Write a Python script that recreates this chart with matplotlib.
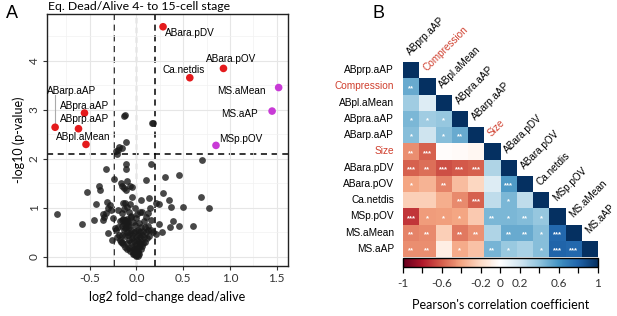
import numpy as np
import matplotlib
matplotlib.use('Agg')
import matplotlib.pyplot as plt
from matplotlib.colors import LinearSegmentedColormap
import matplotlib as mpl

# ---------------- Panel A data ----------------
sig_names = ['ABara.pDV', 'ABara.pOV', 'Ca.netdis', 'MS.aMean', 'MS.aAP', 'MSp.pOV',
             'ABarp.aAP', 'ABpra.aAP', 'ABprp.aAP', 'ABpl.aMean']
sig_x = [0.284, 0.93, 0.57, 1.52, 1.45, 0.85, -0.87, -0.556, -0.62, -0.54]
sig_y = [4.69, 3.84, 3.65, 3.45, 2.97, 2.27, 2.64, 2.93, 2.61, 2.29]
sig_group = ['AB', 'AB', 'AB', 'MS', 'MS', 'MS', 'AB', 'AB', 'AB', 'AB']

ns_x = [-0.135, -0.125, 0.167, 0.18, -0.22, -0.19, -0.15, -0.11, -0.21, -0.2, 0.705,
        -0.114, 0.16, -0.33, -0.114, 0.45, 0.31, -0.24, 0.107, -0.10, -0.17, -0.40, -0.15, -0.05,
        -0.385, -0.53, -0.11, -0.13, 0.28, 0.135, 0.35, 0.69, -0.32, -0.435, 0.21, 0.24, 0.37,
        0.50, 0.78, -0.28, -0.3, -0.07, -0.05, -0.07, -0.125,
        -0.855, -0.58, -0.45, -0.36, -0.36, -0.35, -0.30, -0.22, -0.21, 0.39, 0.36, 0.45, 0.60,
        0.27, 0.21, 0.18, 0.24, 0.035, 0.06, 0.14, 0.12, 0.1, 0.08, 0.15, 0.12,
        -0.27, -0.33, -0.25, -0.2, -0.18, -0.15, -0.12, -0.1, -0.16, -0.13, -0.1, -0.08, -0.14, -0.2,
        -0.18, -0.15, -0.12, -0.1, -0.08, -0.06, -0.05, -0.03, 0.0, 0.02, 0.04, 0.06, 0.08, 0.1,
        0.12, 0.05, -0.02,
        -0.14, -0.12, -0.1, -0.08, -0.06, -0.05, -0.03, -0.01, 0.01, 0.03, 0.05, 0.07, 0.09, 0.04, 0.02,
        -0.1, -0.08, -0.07, -0.05, -0.04, -0.03, -0.02, 0.0, 0.01, 0.02, 0.03, 0.05, 0.06, 0.04,
        -0.03, -0.02, -0.01, 0.0, 0.01, 0.02, 0.0, -0.01, 0.015, -0.04, 0.03,
        -0.09, -0.07, 0.07, -0.13, -0.11, 0.09, -0.16, -0.04, 0.0, -0.06, 0.03,
        -0.17, -0.19, -0.23, -0.26, -0.09, -0.06, 0.11, 0.13, 0.16, 0.01, -0.02, 0.05,
        -0.12, -0.1, -0.14, -0.11, -0.13, -0.09, -0.15, -0.12]
ns_y = [2.87, 2.88, 2.72, 2.73, 2.16, 2.24, 2.22, 2.33, 2.10, 2.18, 1.98,
        1.90, 1.89, 1.78, 1.78, 1.66, 1.63, 1.58, 1.57, 1.55, 1.50, 1.44, 1.44, 1.43,
        1.35, 1.32, 1.37, 1.40, 1.29, 1.19, 1.16, 1.21, 1.12, 1.08, 1.09, 1.07, 1.01,
        1.01, 0.99, 1.05, 1.0, 1.44, 1.22, 1.08, 1.09,
        0.87, 0.67, 0.74, 0.88, 0.74, 0.80, 0.48, 0.54, 0.40, 0.73, 0.61, 0.63, 0.63,
        0.51, 0.46, 0.50, 0.67, 0.92, 0.92, 0.99, 0.9, 0.8, 0.72, 0.75, 0.62,
        0.95, 0.9, 0.78, 0.6, 0.72, 0.75, 0.74, 0.76, 0.9, 0.98, 1.02, 0.92, 1.1, 0.96,
        0.35, 0.3, 0.42, 0.5, 0.6, 0.55, 0.45, 0.5, 0.52, 0.55, 0.5, 0.45, 0.4, 0.5,
        0.55, 0.6, 0.65,
        0.25, 0.2, 0.28, 0.35, 0.3, 0.38, 0.33, 0.4, 0.35, 0.3, 0.33, 0.28, 0.3, 0.4, 0.45,
        0.15, 0.18, 0.12, 0.2, 0.1, 0.15, 0.22, 0.25, 0.18, 0.12, 0.2, 0.15, 0.22, 0.25,
        0.05, 0.08, 0.03, 0.01, 0.05, 0.02, 0.1, 0.12, 0.08, 0.06, 0.06,
        0.45, 0.48, 0.52, 0.55, 0.6, 0.6, 0.45, 0.7, 0.78, 0.82, 0.68,
        0.3, 0.45, 0.58, 0.35, 0.65, 0.8, 0.38, 0.42, 0.55, 0.88, 1.0, 1.15,
        0.74, 0.73, 0.76, 0.68, 0.66, 0.7, 0.62, 0.58]

x_thr_low, x_thr_high, y_thr = -0.24, 0.20, 2.10
xticks_A = [-0.5, 0.0, 0.5, 1.0, 1.5]
yticks_A = [0, 1, 2, 3, 4]

# ---------------- Panel B data ----------------
cor_vars = ['ABprp.aAP', 'Compression', 'ABpl.aMean', 'ABpra.aAP', 'ABarp.aAP', 'Size',
            'ABara.pDV', 'ABara.pOV', 'Ca.netdis', 'MSp.pOV', 'MS.aMean', 'MS.aAP']
red_vars = ['Compression', 'Size']
cor_lower = [
    [0.50],
    [0.35, 0.15],
    [0.45, 0.35, 0.38],
    [0.42, 0.20, 0.42, 0.50],
    [-0.47, -0.60, -0.02, -0.03, -0.05],
    [-0.60, -0.55, -0.65, -0.62, -0.60, 0.30],
    [-0.40, -0.35, -0.50, -0.32, -0.22, 0.15, 0.57],
    [-0.25, -0.25, -0.37, -0.48, -0.60, 0.25, 0.45, 0.25],
    [-0.72, -0.43, -0.42, -0.40, -0.27, 0.45, 0.45, 0.43, 0.38],
    [-0.50, -0.48, -0.25, -0.53, -0.46, 0.30, 0.50, 0.50, 0.42, 0.78],
    [-0.47, -0.47, -0.10, -0.38, -0.30, 0.46, 0.37, 0.32, 0.42, 0.80, 0.78],
]
sig_lower = [
    ['**'],
    ['', ''],
    ['*', '*', '*'],
    ['*', '', '*', '**'],
    ['**', '***', '', '', ''],
    ['***', '**', '***', '***', '***', ''],
    ['*', '', '**', '', '', '', '***'],
    ['', '', '', '**', '***', '', '*', ''],
    ['***', '*', '*', '*', '', '**', '*', '**', '*'],
    ['**', '**', '', '**', '**', '', '**', '**', '*', '***'],
    ['**', '**', '', '*', '', '**', '*', '', '*', '***', '***'],
]
cbar_ticks = [-1, -0.8, -0.6, -0.4, -0.2, 0, 0.2, 0.4, 0.6, 0.8, 1]
cbar_labels = ['-1', '', '-0.6', '', '-0.2', '0', '0.2', '', '0.6', '', '1']

# ---------------- Figure ----------------
W, H = 617, 316
fig = plt.figure(figsize=(W / 100, H / 100), dpi=100)

def rect(l, t, r, b):
    return [l / W, 1 - b / H, (r - l) / W, (b - t) / H]

LATO = 'Lato'
ARIAL = 'Liberation Sans'

# Panel A
ax = fig.add_axes(rect(46.7, 14, 288, 266))
ax.set_xlim(-0.96, 1.62)
ax.set_ylim(-0.19, 4.95)
ax.set_xticks(xticks_A)
ax.set_yticks(yticks_A)
ax.set_xticks([-0.75, -0.25, 0.25, 0.75, 1.25], minor=True)
ax.set_yticks([0.5, 1.5, 2.5, 3.5, 4.5], minor=True)
ax.grid(True, which='major', color='#e6e6e6', lw=0.8, zorder=0)
ax.grid(True, which='minor', color='#f1f1f1', lw=0.5, zorder=0)
ax.tick_params(which='minor', length=0)
ax.tick_params(which='major', length=3, width=0.8, color='#333333', labelsize=8.5,
               labelcolor='#333333', pad=2)
ax.set_xticklabels(['-0.5', '0.0', '0.5', '1.0', '1.5'], family=LATO)
ax.set_yticklabels([str(t) for t in yticks_A], family=LATO, rotation=90, va='center')
for s in ax.spines.values():
    s.set_linewidth(1.0)
    s.set_color('#222222')

ax.axvline(0, color='#aaaaaa', lw=1.0, ls=(0, (4, 3)), zorder=1)
ax.axvline(x_thr_low, color='black', lw=1.1, ls=(0, (4, 3)), zorder=1)
ax.axvline(x_thr_high, color='black', lw=1.1, ls=(0, (4, 3)), zorder=1)
ax.axhline(y_thr, color='black', lw=1.1, ls=(0, (4, 3)), zorder=1)

ax.scatter(ns_x, ns_y, s=24, color='#1a1a1a', alpha=0.8, lw=0, zorder=2)
col_map = {'AB': '#e41a1c', 'MS': '#c83ad6'}
ax.scatter(sig_x, sig_y, s=30, c=[col_map[g] for g in sig_group], lw=0, zorder=3)

label_off = {
    'ABara.pDV': (0.29, -0.13), 'ABara.pOV': (0.085, 0.19), 'Ca.netdis': (-0.065, 0.16),
    'MS.aMean': (-0.40, -0.08), 'MS.aAP': (-0.35, -0.06), 'MSp.pOV': (0.27, 0.13),
    'ABarp.aAP': (0.18, 0.74), 'ABpra.aAP': (0.0, 0.15), 'ABprp.aAP': (0.06, 0.19),
    'ABpl.aMean': (-0.03, 0.15),
}
for nm, px, py in zip(sig_names, sig_x, sig_y):
    dx, dy = label_off[nm]
    ax.text(px + dx, py + dy, nm, ha='center', va='center', fontsize=7.2, family=ARIAL, zorder=4)
    if nm == 'ABarp.aAP':
        ax.plot([px, px], [py + 0.08, py + 0.66], color='#aaaaaa', lw=0.8, zorder=2)

ax.set_xlabel('log2 fold\u2212change dead/alive', family=LATO, fontsize=9, labelpad=5)
ax.set_ylabel('-log10 (p-value)', family=LATO, fontsize=9, labelpad=3)

fig.text(48 / W, 1 - 7 / H, 'Eq. Dead/Alive 4- to 15-cell stage', family=LATO, fontsize=8.8,
         ha='left', va='center')
fig.text(6 / W, 1 - 13 / H, 'A', family=ARIAL, fontsize=13, ha='left', va='center')
fig.text(372 / W, 1 - 13 / H, 'B', family=ARIAL, fontsize=13, ha='left', va='center')

# Panel B
cmap = LinearSegmentedColormap.from_list('corrRdBu', [
    "#67001F", "#B2182B", "#D6604D", "#F4A582", "#FDDBC7", "#FFFFFF",
    "#D1E5F0", "#92C5DE", "#4393C3", "#2166AC", "#053061"], N=200)

n = len(cor_vars)
M = np.full((n, n), np.nan)
S = [['' for _ in range(n)] for _ in range(n)]
for i in range(n):
    M[i, i] = 1.0
for i, (row, srow) in enumerate(zip(cor_lower, sig_lower), start=1):
    for j, (v, s) in enumerate(zip(row, srow)):
        M[i, j] = v
        S[i][j] = s

axh = fig.add_axes(rect(403, 62, 598, 257))
axh.pcolormesh(np.arange(n + 1), np.arange(n + 1), np.ma.masked_invalid(M), cmap=cmap,
               vmin=-1, vmax=1, edgecolors='none')
axh.set_xlim(0, n)
axh.set_ylim(n, 0)
axh.axis('off')
for i in range(n):
    for j in range(i):
        if S[i][j]:
            axh.text(j + 0.5, i + 0.62, S[i][j], ha='center', va='center', color='white',
                     fontsize=5.5, family=ARIAL, fontweight='bold')
for i, nm in enumerate(cor_vars):
    c = '#d0402f' if nm in red_vars else 'black'
    axh.text(-0.55, i + 0.5, nm, ha='right', va='center', fontsize=7.3, family=ARIAL, color=c,
             clip_on=False)
    axh.text(i + 0.55, i - 0.3, nm, ha='left', va='bottom', rotation=45, rotation_mode='anchor',
             fontsize=7.2, family=ARIAL, color=c, clip_on=False)

axc = fig.add_axes(rect(403, 258, 597.5, 267))
norm = mpl.colors.Normalize(vmin=-1, vmax=1)
cb = mpl.colorbar.ColorbarBase(axc, cmap=cmap, norm=norm, orientation='horizontal')
cb.outline.set_linewidth(1.0)
cb.outline.set_edgecolor('black')
cb.set_ticks(cbar_ticks)
cb.set_ticklabels(cbar_labels)
axc.tick_params(axis='x', length=4, width=0.9, color='black', labelsize=8.5, pad=4)
for lbl in axc.get_xticklabels():
    lbl.set_family(LATO)
    lbl.set_color('#333333')
axc.set_xlabel("Pearson's correlation coefficient", family=LATO, fontsize=9, labelpad=7)

fig.savefig('out.png', dpi=100)
